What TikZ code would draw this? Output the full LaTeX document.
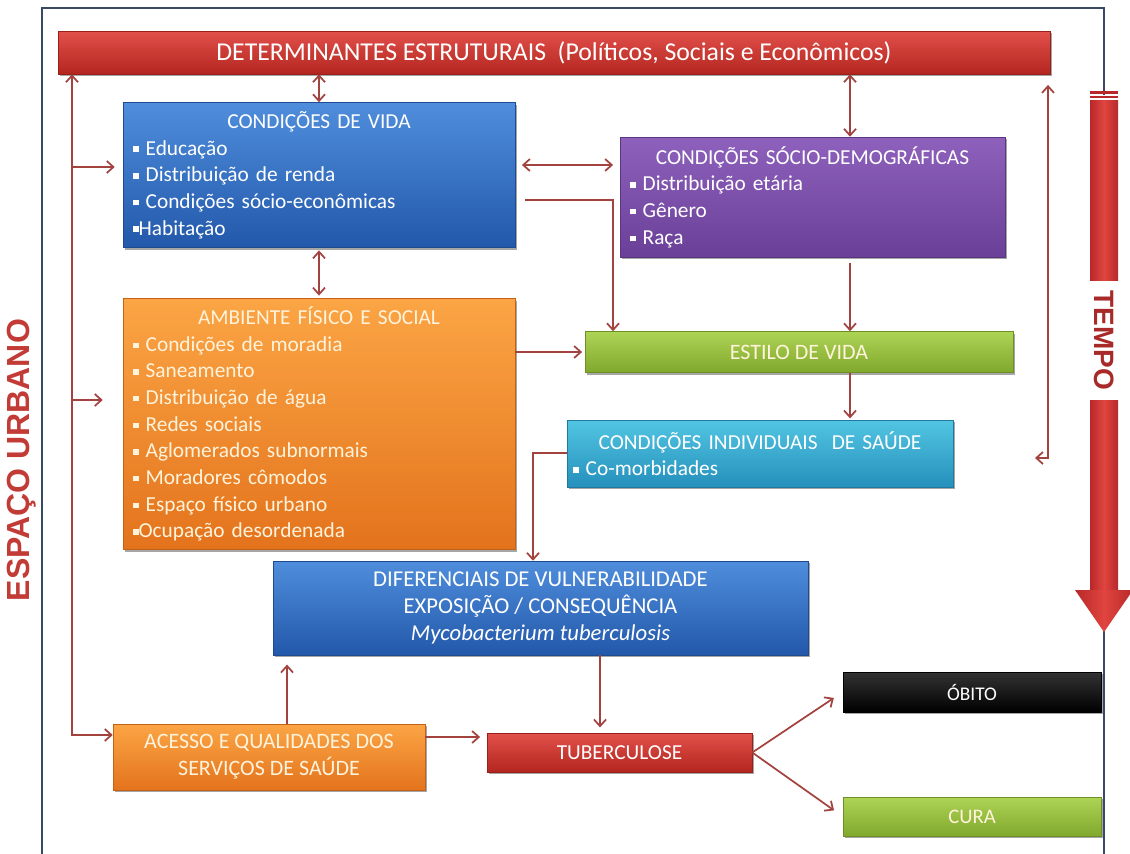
\documentclass[tikz,border=0pt]{standalone}
\usepackage{fontspec}
\setmainfont{Carlito}
\newfontfamily\arialf{Liberation Sans}
\usetikzlibrary{arrows.meta,shadows}
\definecolor{connc}{HTML}{A3433F}
\definecolor{redT}{HTML}{E2504A}
\definecolor{redB}{HTML}{B3261F}
\definecolor{blueT}{HTML}{4F8EDC}
\definecolor{blueB}{HTML}{2358AA}
\definecolor{purT}{HTML}{8E62BC}
\definecolor{purB}{HTML}{6A3F98}
\definecolor{orT}{HTML}{FBA545}
\definecolor{orB}{HTML}{E3731C}
\definecolor{grT}{HTML}{AED456}
\definecolor{grB}{HTML}{80A82C}
\definecolor{cyT}{HTML}{52C5E2}
\definecolor{cyB}{HTML}{2590BC}
\definecolor{blkT}{HTML}{333333}
\definecolor{blkB}{HTML}{000000}
\definecolor{frameC}{HTML}{3A4866}
\definecolor{urbC}{HTML}{C23B36}
\definecolor{tempoC}{HTML}{A82A28}
\definecolor{tD}{HTML}{B8282A}
\definecolor{tL}{HTML}{E0453F}
\definecolor{creamC}{HTML}{FFF3DC}
\newcommand{\bul}{\raisebox{0.3ex}{\rule{0.26em}{0.26em}}}
\begin{document}
\begin{tikzpicture}[x=0.75pt,y=-0.75pt,
  >={Straight Barb[length=5pt,width=9pt]},
  wh/.style 2 args={minimum width=#1*0.75pt,minimum height=#2*0.75pt},
  boxbase/.style={rectangle,inner sep=0pt,text=white,
    font=\fontsize{16}{20}\selectfont,
    drop shadow={shadow xshift=1.5pt,shadow yshift=-1.5pt,opacity=0.35,fill=black}},
  fillc/.style 2 args={top color=#1,bottom color=#2,draw=#2!85!black,line width=0.4pt},
  conn/.style={draw=connc,line width=1.3pt}
]
\useasboundingbox (0,0) rectangle (1130,853);
\fill[white] (0,0) rectangle (1130,853);

% frame
\draw[frameC,line width=1.2pt] (42,870) -- (42,8) -- (1104,8) -- (1104,95);
\draw[frameC,line width=1.2pt] (1104,628) -- (1104,870);

% TEMPO arrow
\fill[tD] (1090,91) rectangle (1118,93.5);
\fill[tD] (1090,95.5) rectangle (1118,98);
\shade[left color=tD,right color=tD,middle color=tL] (1090,100) rectangle (1118,280);
\shade[left color=tD,right color=tD,middle color=tL] (1090,400) rectangle (1118,592);
\shade[left color=tD,right color=tD,middle color=tL] (1075,590) -- (1133,590) -- (1104,632) -- cycle;
\node[rotate=-90,font=\arialf\bfseries\fontsize{21}{21}\selectfont,text=tempoC,inner sep=0.5pt] (tempo) at (1104,340) {TEMPO};

% ESPACO URBANO
\node[rotate=90,font=\arialf\bfseries\fontsize{24}{24}\selectfont,text=urbC] (urb) at (22,460) {ESPAÇO URBANO};

% boxes
\node[boxbase,fillc={redT}{redB},wh={992}{43},font=\fontsize{19.3}{22}\selectfont] (det) at (554,52.5)
  {DETERMINANTES ESTRUTURAIS\ \ (Políticos, Sociais e Econômicos)};

\node[boxbase,fillc={blueT}{blueB},wh={392}{145},text width=372*0.75pt,align=left] (cdv) at (319,175)
  {{\centering CONDIÇÕES DE VIDA\par}\bul\ Educação\\\bul\ Distribuição de renda\\\bul\ Condições sócio-econômicas\\\bul Habitação};

\node[boxbase,fillc={purT}{purB},wh={385}{120},text width=365*0.75pt,align=left] (socio) at (812.5,197)
  {{\centering CONDIÇÕES SÓCIO-DEMOGRÁFICAS\par}\bul\ Distribuição etária\\\bul\ Gênero\\\bul\ Raça};

\node[boxbase,fillc={orT}{orB},wh={392}{251},text width=372*0.75pt,align=left,text=creamC] (amb) at (319,424)
  {{\centering AMBIENTE FÍSICO E SOCIAL\par}\bul\ Condições de moradia\\\bul\ Saneamento\\\bul\ Distribuição de água\\\bul\ Redes sociais\\\bul\ Aglomerados subnormais\\\bul\ Moradores cômodos\\\bul\ Espaço físico urbano\\\bul Ocupação desordenada};

\node[boxbase,fillc={grT}{grB},wh={428}{41},text=creamC,font=\fontsize{16.5}{20}\selectfont] (estilo) at (799,352) {ESTILO DE VIDA};

\node[boxbase,fillc={cyT}{cyB},wh={386}{67},text width=374*0.75pt,align=left] (indiv) at (760,453.5)
  {{\centering CONDIÇÕES INDIVIDUAIS\ \ DE SAÚDE\par}\bul\ Co-morbidades};

\node[boxbase,fillc={blueT}{blueB},wh={535}{94},align=center,font=\fontsize{17}{20.5}\selectfont] (difer) at (540.5,608)
  {DIFERENCIAIS DE VULNERABILIDADE\\EXPOSIÇÃO / CONSEQUÊNCIA\\\textit{Mycobacterium tuberculosis}};

\node[boxbase,fillc={blkT}{blkB},wh={258}{40},font=\fontsize{14.5}{17}\selectfont] (obito) at (972,692) {ÓBITO};

\node[boxbase,fillc={redT}{redB},wh={265}{39},font=\fontsize{16}{19}\selectfont] (tuber) at (619.5,752.5) {TUBERCULOSE};

\node[boxbase,fillc={orT}{orB},wh={312}{66},align=center,text=creamC,font=\fontsize{16.5}{20}\selectfont] (acesso) at (269,757)
  {ACESSO E QUALIDADES DOS\\SERVIÇOS DE SAÚDE};

\node[boxbase,fillc={grT}{grB},wh={258}{39},text=creamC,font=\fontsize{15.5}{18}\selectfont] (cura) at (972,816.5) {CURA};

% helper coordinates
\coordinate (xs) at (850,0);
\coordinate (ya) at (0,165);
\coordinate (xb) at (613,0);
\coordinate (yc) at (0,352);
\coordinate (yd) at (0,453);
\coordinate (xd) at (533,0);
\coordinate (xe) at (600,0);
\coordinate (xf) at (287,0);
\coordinate (yg) at (0,737);
\coordinate (L0) at (72,735);
\coordinate (L1) at (72,167);
\coordinate (L2) at (72,400);
\coordinate (R0) at (1048,458);
\coordinate (R1) at (1035,458);
\coordinate (B0) at (525,200);

% connectors
\draw[conn,<->] (cdv.north) -- (cdv.north |- det.south);
\draw[conn,<->] (socio.north -| xs) -- (det.south -| xs);
\draw[conn,<->,shorten <=5pt,shorten >=5pt] (cdv.east |- ya) -- (socio.west |- ya);
\draw[conn,<->,shorten <=2pt,shorten >=2pt] (cdv.south) -- (amb.north);
\draw[conn,->] (B0) -| (estilo.north -| xb);
\draw[conn,->,shorten <=4pt] (socio.south -| xs) -- (estilo.north -| xs);
\draw[conn,->,shorten >=2pt] (amb.east |- yc) -- (estilo.west |- yc);
\draw[conn,->,shorten >=1pt] (estilo.south -| xs) -- (indiv.north -| xs);
\draw[conn,->] (indiv.west |- yd) -| (difer.north -| xd);
\draw[conn,->,shorten >=4pt] (difer.south -| xe) -- (tuber.north -| xe);
\draw[conn,->,shorten >=7pt] (acesso.north -| xf) -- (difer.south -| xf);
\draw[conn,->,shorten >=5pt] (acesso.east |- yg) -- (tuber.west |- yg);
\draw[conn,->,shorten >=8pt] (tuber.east) -- (obito.west);
\draw[conn,->,shorten >=8pt] (tuber.east) -- (cura.west);
\draw[conn,<->] (det.south -| L0) -- (L0) -- (acesso.west |- L0);
\draw[conn,->,shorten >=6pt] (L1) -- (cdv.west |- L1);
\draw[conn,->,shorten >=15pt] (L2) -- (amb.west |- L2);
\draw[conn,<->,shorten >=8pt] (R1) -- (R0) -- (det.south -| R0);
\end{tikzpicture}
\end{document}
